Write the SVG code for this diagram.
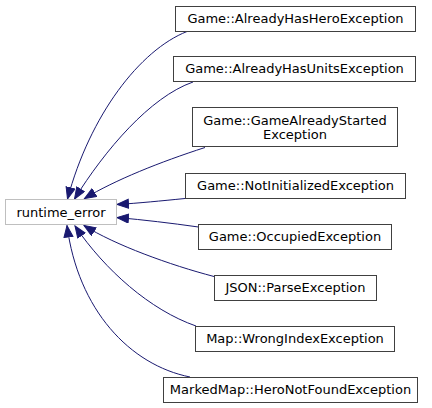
<svg xmlns="http://www.w3.org/2000/svg" width="432" height="408" viewBox="0 0 432 408">
<style>
.n rect{fill:#ffffff;stroke:#404040;stroke-width:1}
.r rect{fill:#ffffff;stroke:#bfbfbf;stroke-width:1}
text{font-family:"DejaVu Sans",sans-serif;font-size:13px;fill:#000000;text-anchor:middle}
.e path{fill:none;stroke:#191970;stroke-width:1;marker-end:url(#ah)}
</style>
<defs>
<marker id="ah" markerUnits="userSpaceOnUse" markerWidth="14" markerHeight="12" refX="12" refY="5" orient="auto">
<path d="M0.5,0.5 L12,5 L0.5,9.5 Z" fill="#191970" stroke="#191970" stroke-width="1"/>
</marker>
</defs>
<g id="edges" class="e">
<path d="M187,31.5 C140,50 90,115 67.5,199"/>
<path d="M193,82 C150,97 105,150 74.5,199"/>
<path d="M205,147.5 C160,162 115,180 84.5,198.5"/>
<path d="M185,198.5 C160,201 140,203 117,204.5"/>
<path d="M198.5,227 C170,223 145,220 117,217.5"/>
<path d="M214,276.5 C170,265 115,245 84,225.5"/>
<path d="M196,326 C150,310 105,270 75,226"/>
<path d="M190,377 C130,365 78,310 67,225.5"/>
</g>
<g id="runtime_error" class="r">
<rect x="5.5" y="199.5" width="111" height="25"/>
<text x="61" y="216.5">runtime_error</text>
</g>
<g id="AlreadyHasHeroException" class="n">
<rect x="175.5" y="6.5" width="240" height="25"/>
<text x="295.5" y="23">Game::AlreadyHasHeroException</text>
</g>
<g id="AlreadyHasUnitsException" class="n">
<rect x="173.5" y="56.5" width="242" height="25"/>
<text x="294.5" y="73">Game::AlreadyHasUnitsException</text>
</g>
<g id="GameAlreadyStartedException" class="n">
<rect x="192.5" y="107.5" width="205" height="39"/>
<text x="295" y="124.5">Game::GameAlreadyStarted</text>
<text x="295" y="138.5">Exception</text>
</g>
<g id="NotInitializedException" class="n">
<rect x="185.5" y="173.5" width="220" height="25"/>
<text x="295.5" y="190">Game::NotInitializedException</text>
</g>
<g id="OccupiedException" class="n">
<rect x="198.5" y="224.5" width="193" height="25"/>
<text x="295" y="241">Game::OccupiedException</text>
</g>
<g id="ParseException" class="n">
<rect x="214.5" y="275.5" width="162" height="25"/>
<text x="295.5" y="292">JSON::ParseException</text>
</g>
<g id="WrongIndexException" class="n">
<rect x="195.5" y="326.5" width="199" height="25"/>
<text x="295" y="343">Map::WrongIndexException</text>
</g>
<g id="HeroNotFoundException" class="n">
<rect x="163.5" y="377.5" width="254" height="25"/>
<text x="290.5" y="394">MarkedMap::HeroNotFoundException</text>
</g>
</svg>
